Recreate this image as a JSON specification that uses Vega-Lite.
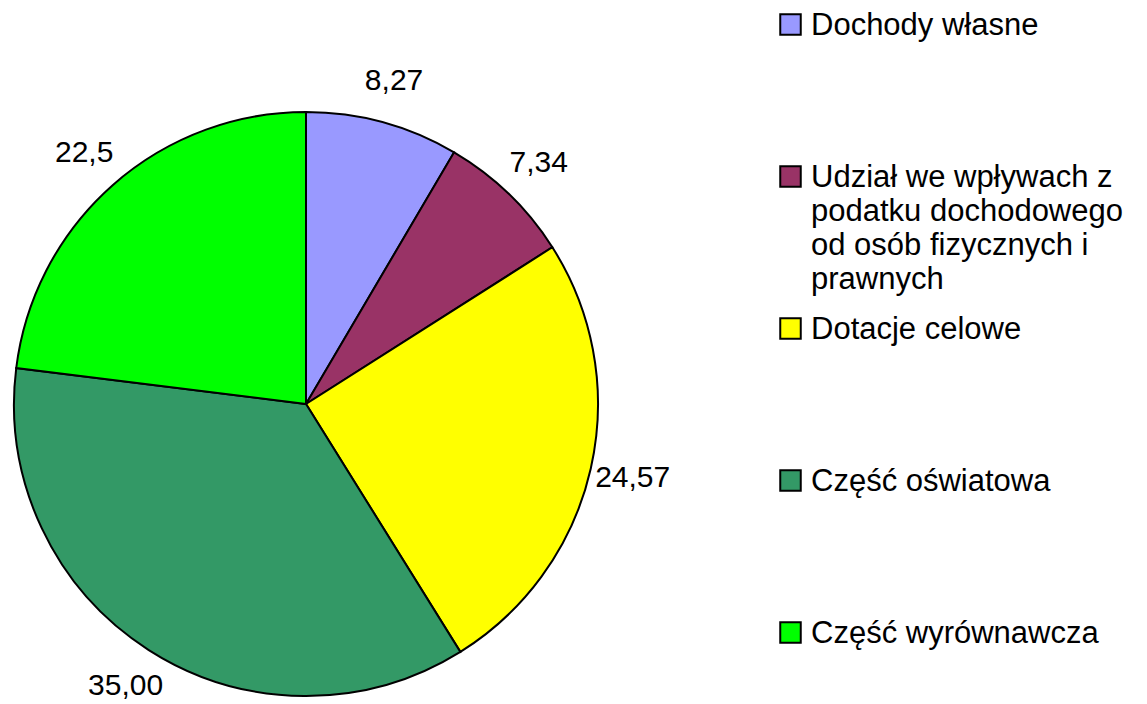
{
  "$schema": "https://vega.github.io/schema/vega-lite/v6.json",
  "width": 612,
  "height": 600,
  "autosize": {"type": "none"},
  "padding": {"top": 104, "left": 0, "right": 535, "bottom": 0},
  "background": "white",
  "config": {"view": {"stroke": null}, "font": "Liberation Sans"},
  "data": {
    "values": [
      {"kategoria": "Dochody własne", "wartosc": 8.27, "etykieta": "8,27", "kolejnosc": 1},
      {"kategoria": "Udział we wpływach z podatku dochodowego od osób fizycznych i prawnych", "wartosc": 7.34, "etykieta": "7,34", "kolejnosc": 2},
      {"kategoria": "Dotacje celowe", "wartosc": 24.57, "etykieta": "24,57", "kolejnosc": 3},
      {"kategoria": "Część oświatowa", "wartosc": 35.0, "etykieta": "35,00", "kolejnosc": 4},
      {"kategoria": "Część wyrównawcza", "wartosc": 22.5, "etykieta": "22,5", "kolejnosc": 5}
    ]
  },
  "encoding": {
    "theta": {"field": "wartosc", "type": "quantitative", "stack": true},
    "order": {"field": "kolejnosc", "type": "quantitative"}
  },
  "layer": [
    {
      "mark": {"type": "arc", "outerRadius": 292, "stroke": "black", "strokeWidth": 2},
      "encoding": {
        "color": {
          "field": "kategoria",
          "type": "nominal",
          "scale": {
            "domain": ["Dochody własne", "Udział we wpływach z podatku dochodowego od osób fizycznych i prawnych", "Dotacje celowe", "Część oświatowa", "Część wyrównawcza"],
            "range": ["#9999FF", "#993366", "#FFFF00", "#339966", "#00FF00"]
          },
          "legend": {
            "title": null,
            "orient": "none",
            "legendX": 775,
            "legendY": -95,
            "padding": 0,
            "symbolType": "square",
            "symbolSize": 420,
            "symbolStrokeColor": "black",
            "symbolStrokeWidth": 2,
            "symbolOpacity": 1,
            "labelFontSize": 31,
            "labelFont": "Liberation Sans",
            "labelColor": "black",
            "labelOffset": 5,
            "labelLimit": 500,
            "rowPadding": 18,
            "gridAlign": "all",
            "labelBaseline": "top",
            "labelExpr": "datum.label == 'Udział we wpływach z podatku dochodowego od osób fizycznych i prawnych' ? ['Udział we wpływach z', 'podatku dochodowego', 'od osób fizycznych i', 'prawnych'] : datum.label",
            "encoding": {"labels": {"dy": {"value": -14}, "lineHeight": {"value": 34}}}
          }
        }
      }
    },
    {
      "mark": {"type": "text", "radius": 335, "fontSize": 30, "font": "Liberation Sans", "color": "black"},
      "encoding": {"text": {"field": "etykieta", "type": "nominal"}}
    }
  ]
}
